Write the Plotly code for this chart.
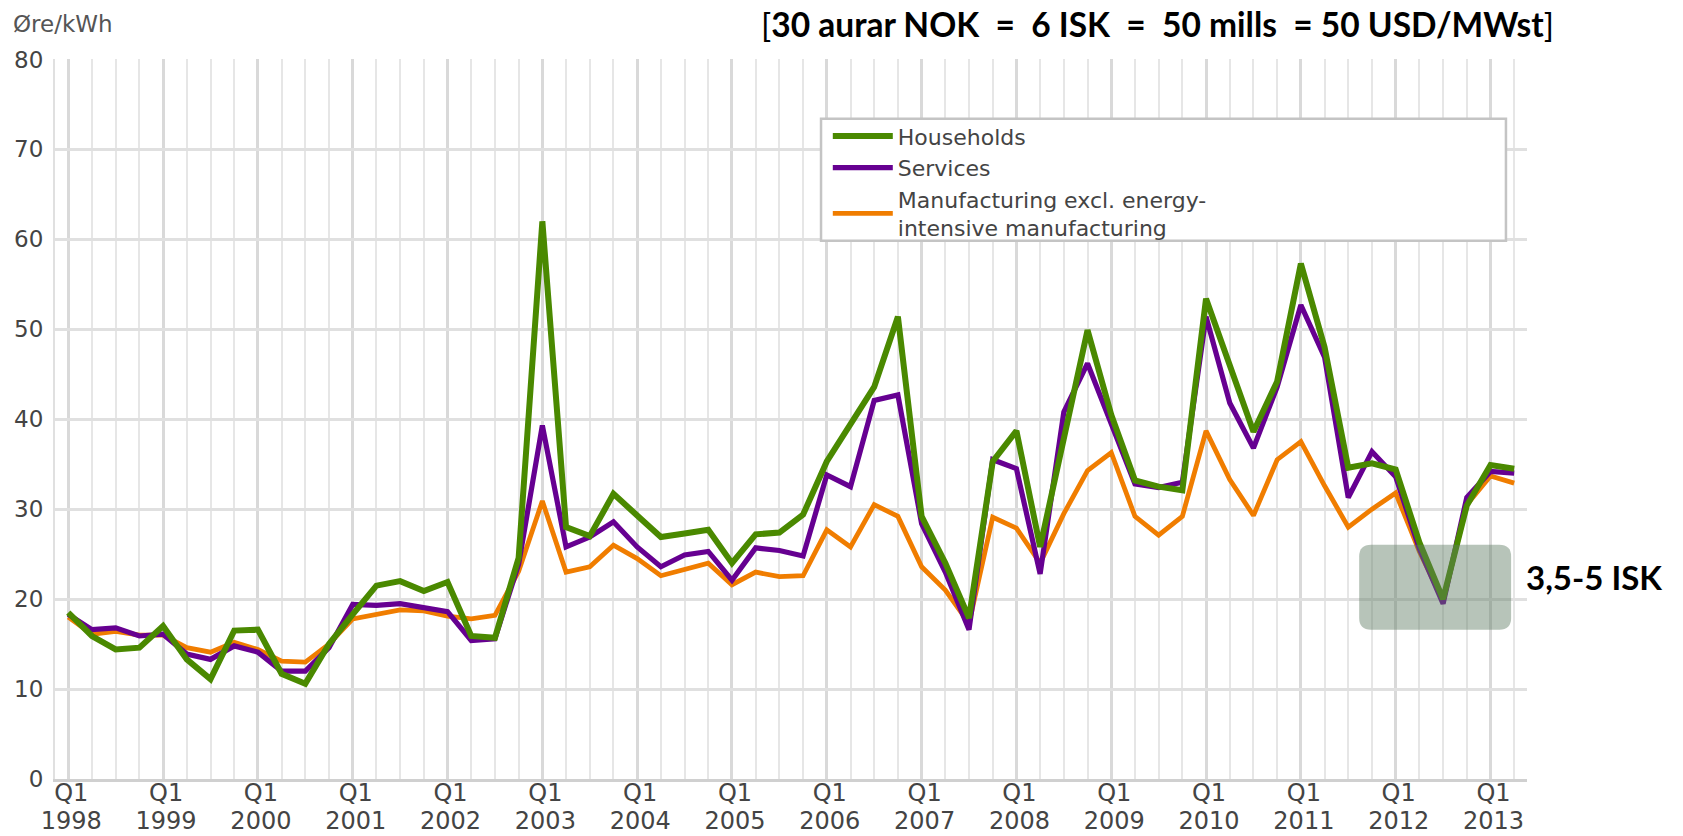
import plotly.graph_objects as go

# ---- data (øre/kWh, quarterly Q1 1998 .. Q2 2013) ----
years = list(range(1998, 2014))
households = [
    18.5, 15.9, 14.4, 14.6,
    17.0, 13.3, 11.1, 16.5,
    16.6, 11.7, 10.6, 15.0,
    18.3, 21.5, 22.0, 20.9,
    21.9, 15.9, 15.7, 24.6,
    62.0, 28.0, 27.0, 31.7,
    29.3, 26.9, 27.3, 27.7,
    24.0, 27.2, 27.4, 29.4,
    35.3, 39.6, 43.6, 51.4,
    29.2, 24.0, 17.9, 35.3,
    38.7, 25.8, 38.0, 49.9,
    40.5, 33.2, 32.5, 32.1,
    53.4, 46.0, 38.6, 44.2,
    57.3, 48.0, 34.6, 35.1,
    34.4, 26.3, 20.0, 30.4,
    34.9, 34.5,
]
services = [
    18.3, 16.6, 16.8, 15.9,
    16.1, 13.9, 13.3, 14.8,
    14.1, 12.0, 12.0, 14.6,
    19.4, 19.3, 19.5, 19.0,
    18.6, 15.4, 15.6, 23.9,
    39.3, 25.8, 26.9, 28.6,
    25.8, 23.6, 24.9, 25.3,
    22.1, 25.7, 25.4, 24.8,
    33.8, 32.5, 42.1, 42.7,
    28.4, 23.0, 16.6, 35.5,
    34.5, 22.8, 40.8, 46.2,
    39.5, 32.8, 32.4, 33.0,
    51.4, 41.8, 36.8, 43.6,
    52.7, 46.9, 31.3, 36.4,
    33.6, 25.6, 19.5, 31.3,
    34.2, 34.0,
]
manufacturing = [
    18.0, 16.1, 16.4, 16.0,
    16.0, 14.6, 14.1, 15.2,
    14.4, 13.1, 13.0, 15.0,
    17.8, 18.3, 18.8, 18.7,
    18.1, 17.8, 18.2, 23.1,
    30.9, 23.0, 23.6, 26.0,
    24.5, 22.6, 23.3, 24.0,
    21.6, 23.0, 22.5, 22.6,
    27.7, 25.8, 30.5, 29.2,
    23.6, 21.0, 17.3, 29.1,
    27.9, 24.0, 29.5, 34.3,
    36.3, 29.2, 27.1, 29.2,
    38.7, 33.3, 29.3, 35.5,
    37.5, 32.6, 28.0, 30.0,
    31.8, 25.3, 19.8, 30.5,
    33.7, 32.9,
]
series_names = ["Households", "Services",
                "Manufacturing excl. energy-<br>intensive manufacturing"]
quarter_labels = ["Q1"] * len(years)
year_labels = [str(y) for y in years]

x = list(range(len(households)))
tick_vals = [4 * i for i in range(len(years))]
x_range = [-0.56, 61.54]

GREEN = "#4a8900"
PURPLE = "#660091"
ORANGE = "#f07d00"
AXFONT = dict(family="DejaVu Sans", size=24, color="#444444")

fig = go.Figure()
fig.add_trace(go.Scatter(x=x, y=manufacturing, name=series_names[2], mode="lines",
                         line=dict(color=ORANGE, width=4.8)))
fig.add_trace(go.Scatter(x=x, y=services, name=series_names[1], mode="lines",
                         line=dict(color=PURPLE, width=5.2)))
fig.add_trace(go.Scatter(x=x, y=households, name=series_names[0], mode="lines",
                         line=dict(color=GREEN, width=6)))
# empty carrier for the year-label axis
fig.add_trace(go.Scatter(x=[], y=[], xaxis="x2", yaxis="y", showlegend=False,
                         hoverinfo="skip"))

# legend frame
fig.add_shape(type="rect", xref="paper", yref="paper",
              x0=0.5204, x1=0.9857, y0=0.7476, y1=0.9171,
              line=dict(color="#c4c4c4", width=2.5), fillcolor="white", layer="above")

# highlight box (rounded)
bx0, bx1, by0, by1 = 54.46, 60.87, 16.6, 26.05
rx, ry = 0.5, 1.3
path = (f"M{bx0+rx},{by0} L{bx1-rx},{by0} Q{bx1},{by0} {bx1},{by0+ry} "
        f"L{bx1},{by1-ry} Q{bx1},{by1} {bx1-rx},{by1} L{bx0+rx},{by1} "
        f"Q{bx0},{by1} {bx0},{by1-ry} L{bx0},{by0+ry} Q{bx0},{by0} {bx0+rx},{by0} Z")
fig.add_shape(type="path", path=path, xref="x", yref="y",
              fillcolor="rgba(95,125,100,0.45)", line=dict(width=0), layer="above")

fig.add_annotation(text="3,5-5 ISK", xref="paper", yref="y", x=1.0, y=22.5,
                   xanchor="left", yanchor="middle", showarrow=False, xshift=-3,
                   font=dict(family="Lato", size=33, color="black", weight="bold"))
fig.add_annotation(text="[<b>30 aurar NOK\u00a0 =\u00a0 6 ISK\u00a0 =\u00a0 50 mills\u00a0 = 50 USD/MWst</b>]",
                   xref="paper", yref="paper", x=0.749, y=1.049,
                   xanchor="center", yanchor="middle", showarrow=False,
                   font=dict(family="Lato", size=33.5, color="black"))
fig.add_annotation(text="Øre/kWh", xref="paper", yref="paper", x=-0.0300, y=1.0490,
                   xanchor="left", yanchor="middle", showarrow=False,
                   font=dict(family="DejaVu Sans", size=23, color="#555555"))

fig.update_layout(
    width=1683, height=836,
    margin=dict(l=55, r=156, t=59, b=57, autoexpand=False),
    paper_bgcolor="white", plot_bgcolor="white",
    showlegend=True,
    legend=dict(x=0.525, y=0.922, xanchor="left", yanchor="top",
                traceorder="reversed", bgcolor="rgba(0,0,0,0)", borderwidth=0,
                itemwidth=60, tracegroupgap=0,
                font=dict(family="DejaVu Sans", size=22, color="#444444")),
    xaxis=dict(range=x_range, tickvals=tick_vals, ticktext=quarter_labels,
               tickfont=AXFONT, showgrid=True, gridcolor="#d9d9d9", gridwidth=2.5,
               minor=dict(dtick=1, tick0=0, showgrid=True, gridcolor="#e6e6e6", gridwidth=2),
               showline=False, zeroline=False, ticks="",
               ticklabelstandoff=-3, ticklabelshift=3,
               automargin=False, fixedrange=True),
    xaxis2=dict(range=x_range, overlaying="x", anchor="y", side="bottom",
                tickvals=tick_vals, ticktext=year_labels, tickfont=AXFONT,
                showgrid=False, zeroline=False, ticks="",
                showline=True, linecolor="#d0d0d0", linewidth=3,
                ticklabelstandoff=18, ticklabelshift=3,
                automargin=False, fixedrange=True),
    yaxis=dict(range=[0, 80.05], dtick=10,
               tickfont=dict(family="DejaVu Sans", size=23, color="#444444"),
               showgrid=True, gridcolor="#e0e0e0", gridwidth=2.5,
               showline=True, linecolor="#e0e0e0", linewidth=2,
               zeroline=False, ticks="", ticklabelstandoff=5,
               automargin=False, fixedrange=True),
)

fig.write_html("out.html", config={"displayModeBar": False},
               post_script="document.body.style.margin='0px';")
